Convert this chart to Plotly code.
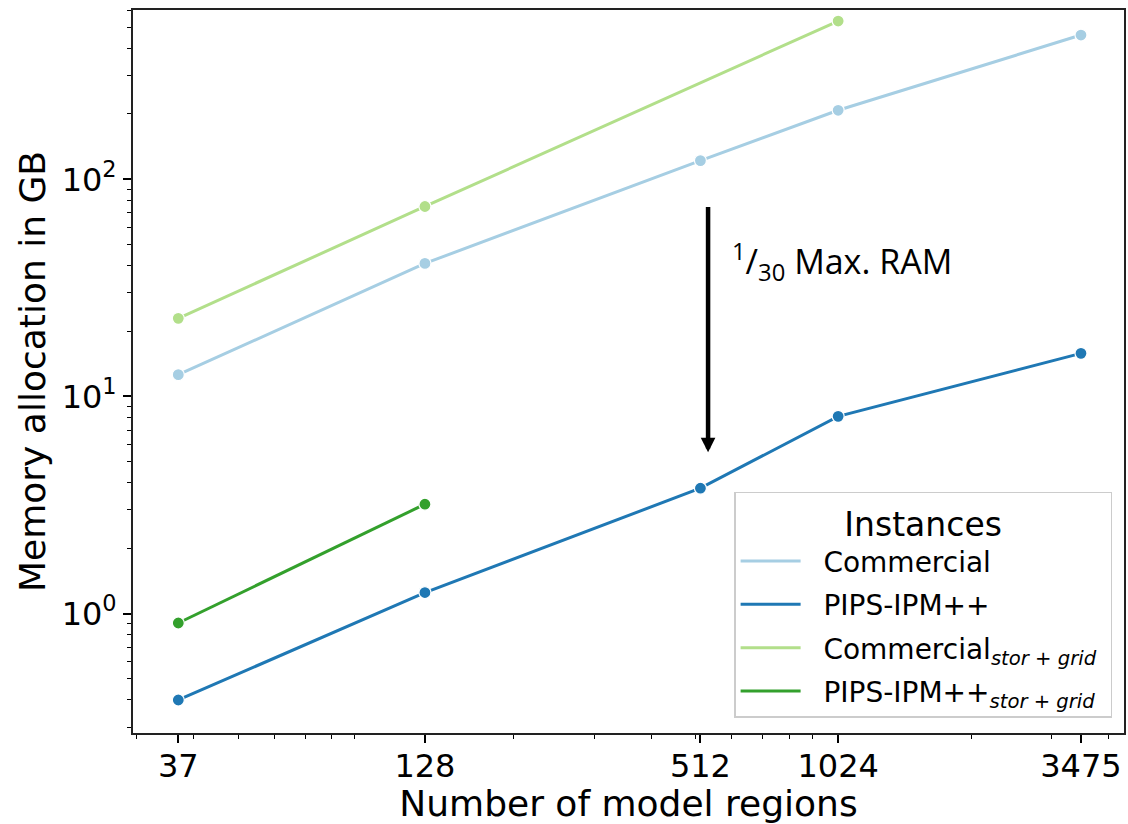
import plotly.graph_objects as go

# ---- data ----
regions_all = [37, 128, 512, 1024, 3475]
commercial = [12.6, 41.0, 122, 208, 462]
pips = [0.40, 1.25, 3.78, 8.10, 15.8]

regions_cs = [37, 128, 1024]
commercial_sg = [22.9, 75.0, 536]

regions_ps = [37, 128]
pips_sg = [0.905, 3.19]

x_ticks = [37, 128, 512, 1024, 3475]
x_ticktext = ["37", "128", "512", "1024", "3475"]
y_ticks = [1, 10, 100]
y_ticktext = ["10<sup>0</sup>", "10<sup>1</sup>", "10<sup>2</sup>"]

names = [
    "Commercial",
    "PIPS-IPM++",
    "Commercial<sub><i>stor + grid</i></sub>",
    "PIPS-IPM++<sub><i>stor + grid</i></sub>",
]
colors = ["#a6cee3", "#1f78b4", "#b2df8a", "#33a02c"]
series = [
    (regions_all, commercial),
    (regions_all, pips),
    (regions_cs, commercial_sg),
    (regions_ps, pips_sg),
]

FONT = "DejaVu Sans"
NB = "\u00a0\u00a0"

fig = go.Figure()
for (xs, ys), name, c in zip(series, names, colors):
    fig.add_trace(go.Scatter(
        x=xs, y=ys, mode="lines+markers", name=name, showlegend=False,
        legendgroup=name,
        line=dict(color=c, width=3),
        marker=dict(size=12, color=c, line=dict(color="white", width=1.2)),
    ))
# legend entries show lines only
for name, c in zip(names, colors):
    fig.add_trace(go.Scatter(
        x=[None], y=[None], mode="lines", name=NB + name + "\u00a0",
        legendgroup=name,
        line=dict(color=c, width=3),
    ))

# minor tick positions (axis decoration)
x_minor = [m * 10 ** e for e in (1, 2, 3) for m in range(2, 10)]
x_minor = [v for v in x_minor if 29 <= v <= 4400]
y_minor = [m * 10 ** e for e in (-1, 0, 1, 2) for m in range(2, 10)]
y_minor = [v for v in y_minor if 0.28 <= v <= 610]

fig.update_xaxes(
    type="log", range=[1.4692, 3.635],
    tickvals=x_ticks, ticktext=x_ticktext,
    ticks="outside", ticklen=8, tickwidth=1.5, tickcolor="black",
    ticklabelstandoff=-4,
    showline=True, linecolor="#222222", linewidth=2, mirror=True,
    showgrid=False, zeroline=False,
    tickfont=dict(family=FONT, size=32, color="black"),
    title=dict(text="Number of model regions", standoff=10,
               font=dict(family=FONT, size=36, color="black")),
    minor=dict(tickvals=x_minor, ticks="outside", ticklen=4,
               tickwidth=1.2, tickcolor="black", showgrid=False),
)
fig.update_yaxes(
    type="log", range=[-0.550, 2.780],
    tickvals=y_ticks, ticktext=y_ticktext,
    ticks="outside", ticklen=8, tickwidth=1.5, tickcolor="black",
    showline=True, linecolor="#222222", linewidth=2, mirror=True,
    showgrid=False, zeroline=False,
    tickfont=dict(family=FONT, size=32, color="black"),
    title=dict(text="Memory allocation in GB", standoff=5,
               font=dict(family=FONT, size=36, color="black")),
    minor=dict(tickvals=y_minor, ticks="outside", ticklen=4,
               tickwidth=1.2, tickcolor="black", showgrid=False),
)

# arrow: 1/30 Max. RAM
fig.add_annotation(
    x=2.726, y=0.743, ax=2.726, ay=1.880,
    xref="x", yref="y", axref="x", ayref="y",
    text="", showarrow=True, arrowhead=2, arrowsize=0.65,
    arrowwidth=4.5, arrowcolor="black",
)
fig.add_annotation(
    x=2.774, y=1.620, xref="x", yref="y", xanchor="left", yanchor="middle",
    text="<sup>1</sup>/<sub>30</sub> Max. RAM", showarrow=False,
    font=dict(family="Open Sans", size=34, color="black"),
)

fig.update_layout(
    width=1128, height=824,
    margin=dict(l=133, r=4, t=10, b=91, autoexpand=False),
    paper_bgcolor="white", plot_bgcolor="white",
    legend=dict(
        x=0.988, y=0.021, xanchor="right", yanchor="bottom",
        bgcolor="white", bordercolor="#cccccc", borderwidth=1.5,
        font=dict(family=FONT, size=28, color="black"),
        title=dict(text="Instances", side="top center",
                   font=dict(family=FONT, size=33, color="black")),
        itemwidth=60, tracegroupgap=4,
    ),
)

fig.write_html("out.html")
